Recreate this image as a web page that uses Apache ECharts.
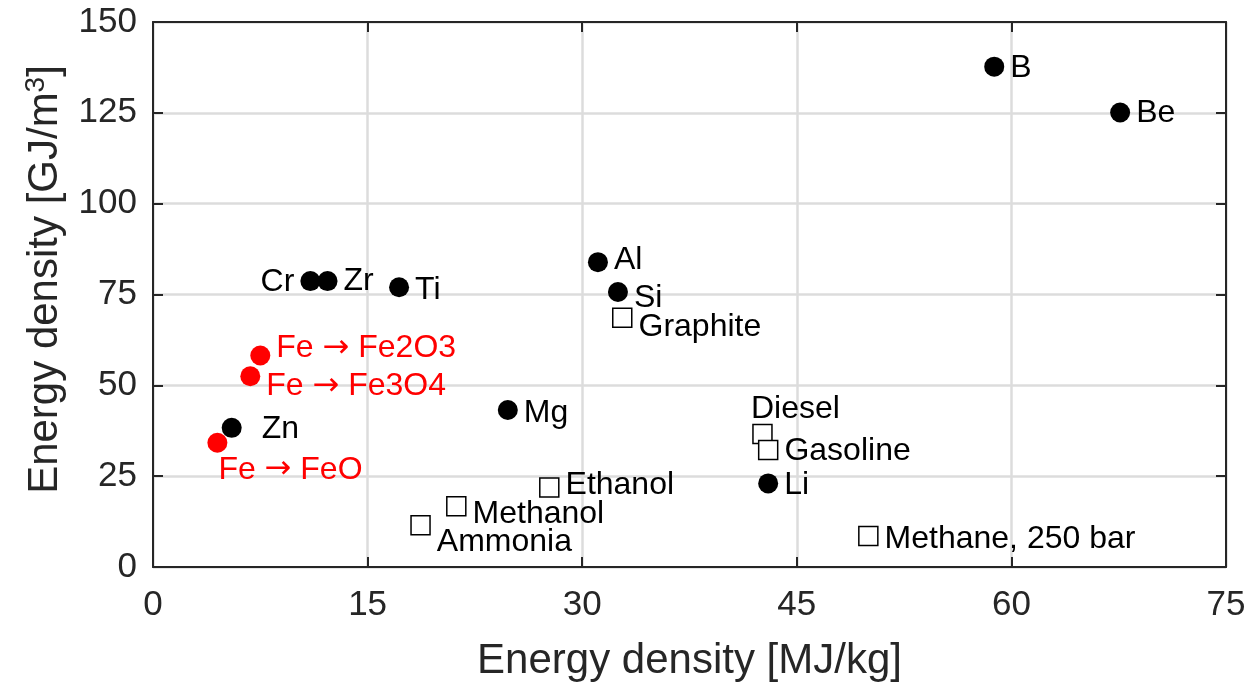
<!DOCTYPE html>
<html>
<head>
<meta charset="utf-8">
<script src="https://cdn.jsdelivr.net/npm/echarts@6/dist/echarts.min.js"></script>
<style>html,body{margin:0;padding:0;background:#fff}#c{width:1250px;height:687px}</style>
</head>
<body>
<div id="c"></div>
<script>
// ---- data ----
const metalNames = ['B', 'Be', 'Al', 'Si', 'Cr', 'Zr', 'Ti', 'Zn', 'Mg', 'Li'];
const metalMJkg  = [58.8, 67.6, 31.1, 32.5, 11.0, 12.2, 17.2, 5.5, 24.8, 43.0];
const metalGJm3  = [137.7, 125.1, 83.9, 75.7, 78.7, 78.7, 77.0, 38.3, 43.2, 23.0];

const ironNames = ['Fe \u2192 Fe2O3', 'Fe \u2192 Fe3O4', 'Fe \u2192 FeO'];
const ironMJkg  = [7.5, 6.8, 4.5];
const ironGJm3  = [58.2, 52.5, 34.2];

const fuelNames = ['Graphite', 'Diesel', 'Gasoline', 'Ethanol', 'Methanol', 'Ammonia', 'Methane, 250 bar'];
const fuelMJkg  = [32.8, 42.6, 43.0, 27.7, 21.2, 18.7, 50.0];
const fuelGJm3  = [68.6, 36.6, 32.2, 21.9, 16.7, 11.5, 8.5];

const xTicks = [0, 15, 30, 45, 60, 75];
const yTicks = [0, 25, 50, 75, 100, 125, 150];

// ---- label placement (style) ----
const labelOffsets = {
  'B': [0, 1], 'Be': [0, 1], 'Al': [0, -2], 'Si': [0, 6], 'Cr': null, 'Zr': [0, 0],
  'Ti': [0, 3], 'Zn': [14, 1], 'Mg': [0, 3], 'Li': [0, 2],
  'Fe \u2192 Fe2O3': [0, -7], 'Fe \u2192 Fe3O4': [0, 10], 'Fe \u2192 FeO': [-15, 27],
  'Graphite': [0, 9], 'Diesel': null, 'Gasoline': [0, 1], 'Ethanol': [0, -2],
  'Methanol': [0, 8], 'Ammonia': [0, 17], 'Methane, 250 bar': [0, 3]
};

const FONT = '"Liberation Sans", Arial, Helvetica, sans-serif';

function buildData(names, xs, ys, color) {
  return names.map((n, i) => {
    const off = labelOffsets[n];
    let label;
    if (n === 'Cr') {
      label = { position: 'left', distance: 6, offset: [0, 1] };
    } else if (n === 'Diesel') {
      label = { position: 'top', distance: 4, offset: [33, 5] };
    } else {
      label = { position: 'right', distance: 6, offset: off || [0, 0] };
    }
    label.show = true;
    label.formatter = n.replace('\u2192', '{a|\u2192}');
    label.color = color;
    label.fontSize = 32;
    label.fontFamily = FONT;
    label.rich = { a: { fontFamily: '"DejaVu Sans", sans-serif', fontSize: 32, color: color } };
    return { name: n, value: [xs[i], ys[i]], label };
  });
}

const chart = echarts.init(document.getElementById('c'));
const axisLineStyle = { color: '#262626', width: 2 };
const tickStyle = { color: '#262626', width: 2 };

chart.setOption({
  animation: false,
  backgroundColor: '#fff',
  grid: { left: 153, right: 24, top: 22, bottom: 117, containLabel: false },
  xAxis: [{
    type: 'value', min: xTicks[0], max: xTicks[xTicks.length - 1], interval: 15,
    name: 'Energy density [MJ/kg]', nameLocation: 'middle', nameGap: 73,
    nameTextStyle: { fontSize: 42, color: '#262626', fontFamily: FONT },
    axisLine: { show: true, onZero: false, lineStyle: axisLineStyle },
    axisTick: { show: true, inside: true, length: 10, lineStyle: tickStyle },
    axisLabel: { fontSize: 35, color: '#262626', fontFamily: FONT, margin: 21 },
    splitLine: { show: true, lineStyle: { color: '#dcdcdc', width: 2.5 } }
  }, {
    type: 'value', position: 'top', min: xTicks[0], max: xTicks[xTicks.length - 1], interval: 15,
    axisLine: { show: true, onZero: false, lineStyle: axisLineStyle },
    axisTick: { show: true, inside: true, length: 10, lineStyle: tickStyle },
    axisLabel: { show: false }, splitLine: { show: false }
  }],
  yAxis: [{
    type: 'value', min: yTicks[0], max: yTicks[yTicks.length - 1], interval: 25,
    name: 'Energy density [GJ/m{sup|3}]', nameLocation: 'middle', nameGap: 85, nameRotate: 90,
    nameTextStyle: {
      fontSize: 42, color: '#262626', fontFamily: FONT, padding: [0, 0, 0, 30],
      rich: { sup: { fontSize: 28, color: '#262626', fontFamily: FONT, verticalAlign: 'top', padding: [0, 0, 18, 0] } }
    },
    axisLine: { show: true, onZero: false, lineStyle: axisLineStyle },
    axisTick: { show: true, inside: true, length: 10, lineStyle: tickStyle },
    axisLabel: { fontSize: 35, color: '#262626', fontFamily: FONT, margin: 16 },
    splitLine: { show: true, lineStyle: { color: '#dcdcdc', width: 2.5 } }
  }, {
    type: 'value', position: 'right', min: yTicks[0], max: yTicks[yTicks.length - 1], interval: 25,
    axisLine: { show: true, onZero: false, lineStyle: axisLineStyle },
    axisTick: { show: true, inside: true, length: 10, lineStyle: tickStyle },
    axisLabel: { show: false }, splitLine: { show: false }
  }],
  series: [{
    type: 'scatter', name: 'fuels', symbol: 'rect', symbolSize: 19,
    itemStyle: { color: '#fff', borderColor: '#000', borderWidth: 1.5, opacity: 1 },
    data: buildData(fuelNames, fuelMJkg, fuelGJm3, '#000'), z: 3
  }, {
    type: 'scatter', name: 'metals', symbol: 'circle', symbolSize: 20,
    itemStyle: { color: '#000', opacity: 1 },
    data: buildData(metalNames, metalMJkg, metalGJm3, '#000'), z: 4
  }, {
    type: 'scatter', name: 'iron', symbol: 'circle', symbolSize: 20,
    itemStyle: { color: '#ff0000', opacity: 1 },
    data: buildData(ironNames, ironMJkg, ironGJm3, '#ff0000'), z: 4
  }]
});
</script>
</body>
</html>
